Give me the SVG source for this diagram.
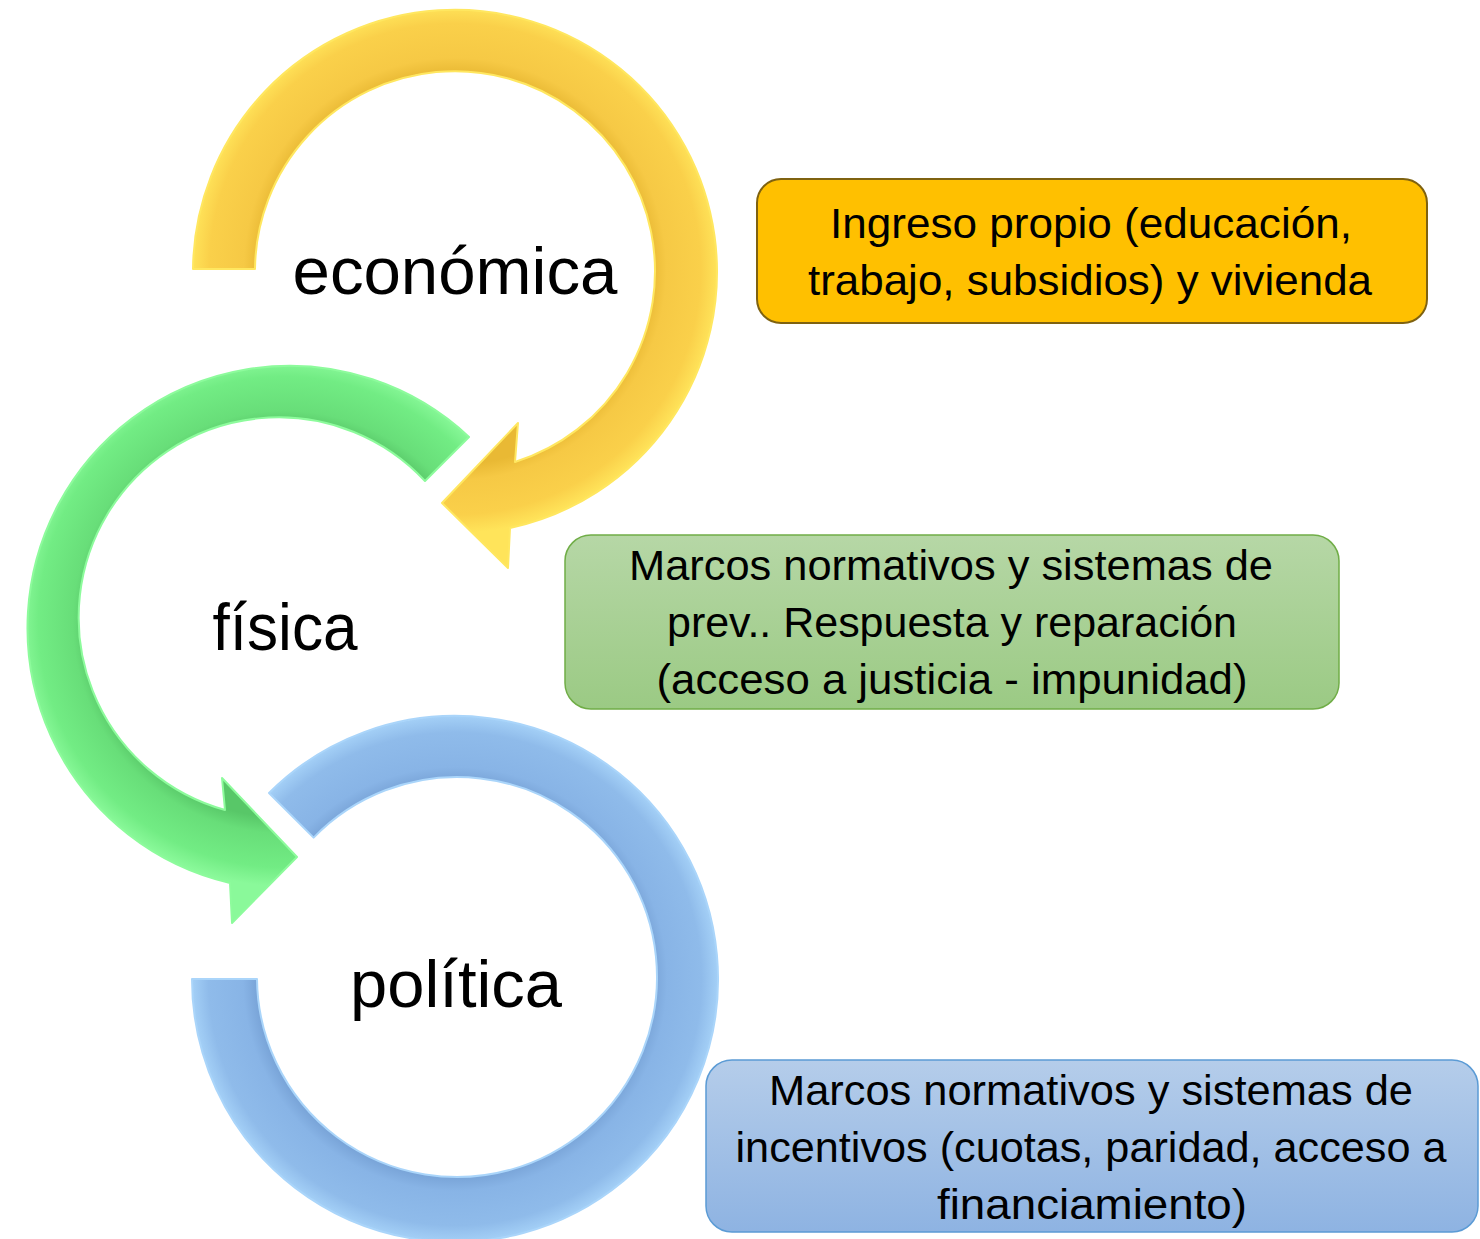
<svg xmlns="http://www.w3.org/2000/svg" width="1480" height="1239" viewBox="0 0 1480 1239">
  <style>
    .lbl { font-family: "Liberation Sans", Arial, sans-serif; font-size: 66px; fill: #000; text-anchor: middle; }
    .box { font-family: "Liberation Sans", Arial, sans-serif; font-size: 42px; fill: #000; text-anchor: middle; }
  </style>
  <defs>
    <radialGradient id="gY" gradientUnits="userSpaceOnUse" cx="455" cy="269" r="264">
      <stop offset="0.74" stop-color="#E9B934"/>
      <stop offset="0.80" stop-color="#F6C945"/>
      <stop offset="0.93" stop-color="#FAD04A"/>
      <stop offset="1" stop-color="#FFE45A"/>
    </radialGradient>
    <radialGradient id="gG" gradientUnits="userSpaceOnUse" cx="284" cy="622" r="264">
      <stop offset="0.74" stop-color="#58C768"/>
      <stop offset="0.80" stop-color="#68DE79"/>
      <stop offset="0.93" stop-color="#72EC84"/>
      <stop offset="1" stop-color="#8AF99A"/>
    </radialGradient>
    <radialGradient id="gB" gradientUnits="userSpaceOnUse" cx="455" cy="979" r="265">
      <stop offset="0.74" stop-color="#77A2D6"/>
      <stop offset="0.80" stop-color="#88B4E6"/>
      <stop offset="0.93" stop-color="#8FBBEA"/>
      <stop offset="1" stop-color="#A6D2F8"/>
    </radialGradient>
    <linearGradient id="fG" x1="0" y1="0" x2="0" y2="1">
      <stop offset="0" stop-color="#B6D7A6"/>
      <stop offset="1" stop-color="#9BCA84"/>
    </linearGradient>
    <linearGradient id="fB" x1="0" y1="0" x2="0" y2="1">
      <stop offset="0" stop-color="#B5CDEA"/>
      <stop offset="1" stop-color="#8EB3E2"/>
    </linearGradient>
  </defs>
  <rect width="1480" height="1239" fill="#FFFFFF"/>

  <g id="node-economica">
    <path d="M 193 269 A 262 262 0 1 1 510 528 L 508 568 L 442 503 L 518 423 L 515 462 A 200 200 0 1 0 255 269 Z" fill="url(#gY)" stroke="#FFE760" stroke-width="2" stroke-linejoin="round"/>
    <text class="lbl" x="455" y="294" textLength="325" lengthAdjust="spacingAndGlyphs">económica</text>
  </g>

  <g id="node-fisica">
    <path d="M 469 437 A 262 262 0 1 0 230 883 L 232 923 L 297 857 L 222 778 L 225 810 A 200 200 0 1 1 425 481 Z" fill="url(#gG)" stroke="#8DFB9C" stroke-width="2" stroke-linejoin="round"/>
    <text class="lbl" x="285" y="650" textLength="145" lengthAdjust="spacingAndGlyphs">física</text>
  </g>

  <g id="node-politica">
    <path d="M 269 793 A 263 263 0 1 1 192 979 L 257 979 A 200 200 0 1 0 313.6 837.6 Z" fill="url(#gB)" stroke="#AAD5FA" stroke-width="2" stroke-linejoin="round"/>
    <text class="lbl" x="456" y="1007" textLength="212" lengthAdjust="spacingAndGlyphs">política</text>
  </g>

  <g id="node-ingreso">
    <rect x="757" y="179" width="670" height="144" rx="24" ry="24" fill="#FFC000" stroke="#7F6210" stroke-width="2"/>
    <text class="box" x="1091" y="238" textLength="522" lengthAdjust="spacingAndGlyphs">Ingreso propio (educación,</text>
    <text class="box" x="1090" y="295" textLength="564" lengthAdjust="spacingAndGlyphs">trabajo, subsidios) y vivienda</text>
  </g>

  <g id="node-marcos-prev">
    <rect x="565" y="535" width="774" height="174" rx="26" ry="26" fill="url(#fG)" stroke="#70AD47" stroke-width="1.5"/>
    <text class="box" x="951" y="580" textLength="644" lengthAdjust="spacingAndGlyphs">Marcos normativos y sistemas de</text>
    <text class="box" x="952" y="637" textLength="570" lengthAdjust="spacingAndGlyphs">prev.. Respuesta y reparación</text>
    <text class="box" x="952" y="694" textLength="591" lengthAdjust="spacingAndGlyphs">(acceso a justicia - impunidad)</text>
  </g>

  <g id="node-marcos-incentivos">
    <rect x="706" y="1060" width="772" height="172" rx="26" ry="26" fill="url(#fB)" stroke="#5B9BD5" stroke-width="1.5"/>
    <text class="box" x="1091" y="1105" textLength="644" lengthAdjust="spacingAndGlyphs">Marcos normativos y sistemas de</text>
    <text class="box" x="1091" y="1162" textLength="711" lengthAdjust="spacingAndGlyphs">incentivos (cuotas, paridad, acceso a</text>
    <text class="box" x="1092" y="1219" textLength="310" lengthAdjust="spacingAndGlyphs">financiamiento)</text>
  </g>

  <g id="connectors"/>
</svg>
